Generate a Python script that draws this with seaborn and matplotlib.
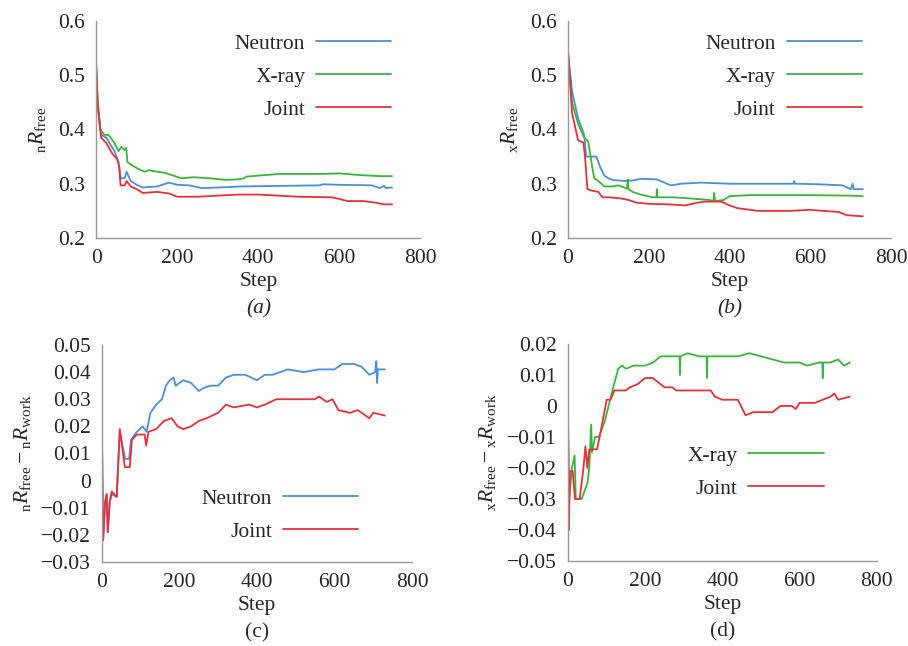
import matplotlib
matplotlib.use('Agg')
import matplotlib.pyplot as plt
import seaborn as sns
from matplotlib.ticker import FuncFormatter, MultipleLocator

# (a) nRfree
a_neu_step = [0, 4, 12, 25, 35, 45, 55, 60, 70, 75, 85, 100, 115, 150, 180, 200, 230, 260, 300, 360, 450, 550, 560, 600, 680, 700, 710, 715, 730]
a_neu_val = [0.51, 0.44, 0.39, 0.385, 0.372, 0.36, 0.34, 0.31, 0.31, 0.322, 0.305, 0.298, 0.293, 0.295, 0.302, 0.298, 0.297, 0.292, 0.293, 0.295, 0.296, 0.297, 0.299, 0.298, 0.297, 0.292, 0.296, 0.292, 0.293]
a_xr_step = [0, 4, 10, 20, 30, 45, 55, 62, 70, 74, 77, 90, 110, 120, 130, 150, 170, 190, 210, 240, 280, 320, 350, 365, 370, 400, 450, 550, 600, 650, 700, 730]
a_xr_val = [0.51, 0.45, 0.40, 0.39, 0.39, 0.375, 0.36, 0.368, 0.362, 0.366, 0.34, 0.333, 0.325, 0.322, 0.325, 0.322, 0.32, 0.315, 0.31, 0.312, 0.31, 0.307, 0.308, 0.31, 0.313, 0.315, 0.318, 0.318, 0.319, 0.316, 0.314, 0.314]
a_jt_step = [0, 3, 12, 25, 40, 52, 57, 60, 70, 75, 85, 100, 115, 150, 180, 200, 250, 300, 350, 400, 450, 500, 580, 600, 620, 660, 690, 710, 730]
a_jt_val = [0.52, 0.45, 0.385, 0.375, 0.355, 0.345, 0.33, 0.297, 0.297, 0.305, 0.295, 0.29, 0.283, 0.285, 0.282, 0.276, 0.276, 0.278, 0.28, 0.28, 0.278, 0.276, 0.275, 0.272, 0.268, 0.268, 0.265, 0.262, 0.262]

# (b) xRfree
b_neu_step = [0, 10, 25, 40, 45, 70, 80, 90, 100, 110, 140, 160, 180, 220, 245, 255, 280, 330, 400, 500, 558, 560, 562, 620, 680, 700, 705, 707, 730]
b_neu_val = [0.54, 0.47, 0.42, 0.39, 0.35, 0.35, 0.33, 0.315, 0.31, 0.307, 0.305, 0.306, 0.309, 0.308, 0.30, 0.297, 0.30, 0.302, 0.30, 0.30, 0.30, 0.305, 0.30, 0.299, 0.297, 0.29, 0.30, 0.29, 0.29]
b_xr_step = [0, 10, 25, 40, 50, 60, 65, 75, 90, 110, 125, 146, 148, 150, 160, 180, 210, 219, 220, 221, 260, 300, 350, 360, 362, 364, 385, 400, 450, 600, 700, 730]
b_xr_val = [0.54, 0.45, 0.41, 0.385, 0.378, 0.33, 0.31, 0.305, 0.295, 0.295, 0.297, 0.291, 0.308, 0.29, 0.285, 0.28, 0.275, 0.275, 0.29, 0.275, 0.275, 0.273, 0.27, 0.268, 0.283, 0.268, 0.27, 0.277, 0.279, 0.279, 0.278, 0.277]
b_jt_step = [0, 10, 25, 38, 42, 48, 60, 75, 85, 100, 130, 150, 170, 200, 250, 290, 320, 340, 380, 400, 420, 450, 470, 550, 600, 630, 670, 690, 730]
b_jt_val = [0.545, 0.43, 0.38, 0.376, 0.35, 0.29, 0.287, 0.285, 0.275, 0.275, 0.273, 0.27, 0.265, 0.263, 0.262, 0.26, 0.265, 0.267, 0.267, 0.26, 0.255, 0.252, 0.25, 0.25, 0.252, 0.25, 0.248, 0.242, 0.24]

# (c) nRfree - nRwork
c_neu_step = [0, 3, 8, 12, 15, 20, 25, 38, 46, 50, 60, 70, 75, 90, 105, 115, 125, 140, 155, 165, 175, 185, 190, 210, 230, 250, 260, 280, 300, 320, 340, 370, 400, 420, 440, 480, 520, 560, 600, 620, 650, 670, 690, 705, 708, 710, 712, 730]
c_neu_val = [0.017, -0.022, -0.008, -0.005, -0.019, -0.008, -0.005, -0.006, 0.018, 0.015, 0.008, 0.008, 0.015, 0.018, 0.02, 0.018, 0.025, 0.028, 0.03, 0.035, 0.037, 0.038, 0.035, 0.037, 0.036, 0.033, 0.034, 0.035, 0.035, 0.038, 0.039, 0.039, 0.037, 0.039, 0.039, 0.041, 0.04, 0.041, 0.041, 0.043, 0.043, 0.042, 0.039, 0.04, 0.044, 0.036, 0.041, 0.041]
c_jt_step = [0, 3, 8, 12, 15, 20, 25, 38, 46, 50, 59, 72, 77, 90, 110, 114, 120, 140, 160, 180, 195, 210, 230, 250, 270, 300, 320, 340, 380, 400, 420, 450, 550, 560, 580, 595, 610, 640, 660, 680, 690, 700, 730]
c_jt_val = [0.017, -0.022, -0.008, -0.005, -0.019, -0.008, -0.004, -0.006, 0.019, 0.015, 0.005, 0.005, 0.015, 0.017, 0.017, 0.013, 0.018, 0.019, 0.022, 0.023, 0.02, 0.019, 0.02, 0.022, 0.023, 0.025, 0.028, 0.027, 0.028, 0.027, 0.028, 0.03, 0.03, 0.031, 0.029, 0.03, 0.026, 0.025, 0.026, 0.024, 0.023, 0.025, 0.024]

# (d) xRfree - xRwork
d_xr_step = [0, 3, 10, 17, 20, 35, 50, 55, 60, 62, 70, 80, 95, 105, 115, 130, 140, 150, 170, 200, 220, 240, 280, 289, 290, 291, 310, 340, 359, 360, 361, 380, 440, 470, 500, 530, 560, 600, 620, 650, 659, 660, 661, 680, 700, 715, 730]
d_xr_val = [-0.004, -0.03, -0.02, -0.016, -0.03, -0.03, -0.025, -0.02, -0.006, -0.015, -0.01, -0.01, -0.005, 0.0, 0.005, 0.012, 0.013, 0.012, 0.013, 0.013, 0.014, 0.016, 0.016, 0.016, 0.01, 0.016, 0.017, 0.016, 0.016, 0.009, 0.016, 0.016, 0.016, 0.017, 0.016, 0.015, 0.014, 0.014, 0.013, 0.014, 0.014, 0.009, 0.014, 0.014, 0.015, 0.013, 0.014]
d_jt_step = [0, 2, 5, 12, 18, 30, 40, 45, 50, 55, 75, 85, 100, 110, 120, 150, 160, 180, 200, 220, 230, 250, 270, 280, 370, 380, 400, 440, 460, 480, 530, 550, 580, 590, 600, 640, 660, 680, 690, 700, 730]
d_jt_val = [-0.004, -0.04, -0.021, -0.021, -0.03, -0.03, -0.02, -0.013, -0.02, -0.014, -0.014, -0.008, 0.002, 0.002, 0.005, 0.005, 0.006, 0.007, 0.009, 0.009, 0.008, 0.006, 0.006, 0.005, 0.005, 0.003, 0.002, 0.002, -0.003, -0.002, -0.002, 0.0, 0.0, -0.001, 0.001, 0.001, 0.002, 0.003, 0.004, 0.002, 0.003]

BLUE = '#4a8fd8'
GREEN = '#3cb43c'
RED = '#e8303a'
FS = 15.5

sns.set_style('white')
plt.rcParams['font.family'] = ['Liberation Serif', 'DejaVu Serif']
plt.rcParams['mathtext.fontset'] = 'custom'
plt.rcParams['mathtext.rm'] = 'Liberation Serif'
plt.rcParams['mathtext.it'] = 'Liberation Serif:italic'
plt.rcParams['font.size'] = FS

fig = plt.figure(figsize=(9.08, 6.46), dpi=100)

def fmt(v, pos):
    s = f'{v:.2f}'.rstrip('0').rstrip('.')
    if s in ('-0', '0'):
        return '0'
    return s.replace('-', '\u2212')

panels = [
    dict(rect=[0.106, 0.6316, 0.357, 0.336], ylim=(0.2, 0.6), step=0.1,
         series=[(a_neu_step, a_neu_val, BLUE, 'Neutron'), (a_xr_step, a_xr_val, GREEN, 'X-ray'), (a_jt_step, a_jt_val, RED, 'Joint')],
         ylabel=r'$_{\mathrm{n}}R_{\mathrm{free}}$', ylab_x=-0.148, leg=(0.91, 0.942), cap='(a)'),
    dict(rect=[0.6256, 0.6316, 0.3557, 0.336], ylim=(0.2, 0.6), step=0.1,
         series=[(b_neu_step, b_neu_val, BLUE, 'Neutron'), (b_xr_step, b_xr_val, GREEN, 'X-ray'), (b_jt_step, b_jt_val, RED, 'Joint')],
         ylabel=r'$_{\mathrm{x}}R_{\mathrm{free}}$', ylab_x=-0.149, leg=(0.91, 0.942), cap='(b)'),
    dict(rect=[0.1123, 0.13, 0.3414, 0.336], ylim=(-0.03, 0.05), step=0.01,
         series=[(c_neu_step, c_neu_val, BLUE, 'Neutron'), (c_jt_step, c_jt_val, RED, 'Joint')],
         ylabel=r'$_{\mathrm{n}}R_{\mathrm{free}} - {}_{\mathrm{n}}R_{\mathrm{work}}$', ylab_x=-0.223, leg=(0.826, 0.337), cap='(c)'),
    dict(rect=[0.6256, 0.1316, 0.340, 0.336], ylim=(-0.05, 0.02), step=0.01,
         series=[(d_xr_step, d_xr_val, GREEN, 'X-ray'), (d_jt_step, d_jt_val, RED, 'Joint')],
         ylabel=r'$_{\mathrm{x}}R_{\mathrm{free}} - {}_{\mathrm{x}}R_{\mathrm{work}}$', ylab_x=-0.227, leg=(0.828, 0.532), cap='(d)'),
]

for p in panels:
    ax = fig.add_axes(p['rect'])
    for xs, ys, col, lab in p['series']:
        sns.lineplot(x=xs, y=ys, color=col, label=lab, ax=ax, sort=False,
                     estimator=None, linewidth=1.3)
    ax.set_xlim(0, 800)
    ax.set_ylim(*p['ylim'])
    ax.xaxis.set_major_locator(MultipleLocator(200))
    ax.yaxis.set_major_locator(MultipleLocator(p['step']))
    ax.yaxis.set_major_formatter(FuncFormatter(fmt))
    for side in ('top', 'right'):
        ax.spines[side].set_visible(False)
    for side in ('left', 'bottom'):
        ax.spines[side].set_color('#9a9a9a')
        ax.spines[side].set_linewidth(1.0)
    ax.tick_params(direction='in', length=3, width=0.8, color='#9a9a9a',
                   labelsize=FS, pad=8)
    ax.set_xlabel('Step', fontsize=FS)
    ax.xaxis.set_label_coords(0.5, -0.155)
    ax.set_ylabel(p['ylabel'], fontsize=FS)
    ax.yaxis.set_label_coords(p['ylab_x'], 0.5)
    ax.text(0.5, -0.325, p['cap'], transform=ax.transAxes, ha='center', va='center',
            fontsize=FS, fontstyle='italic' if p['cap'] in ('(a)', '(b)') else 'normal')
    ax.legend(loc='upper right', bbox_to_anchor=p['leg'], frameon=False,
              markerfirst=False, handlelength=3.5, handletextpad=0.5,
              labelspacing=0.6, borderaxespad=0, borderpad=0, fontsize=FS)

fig.savefig('out.png', dpi=100)
